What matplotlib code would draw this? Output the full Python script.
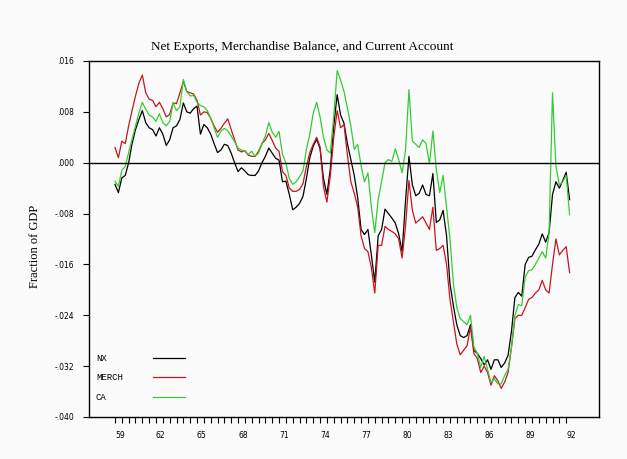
import numpy as np
import matplotlib
matplotlib.use("Agg")
import matplotlib.pyplot as plt

# Quarterly data 1959Q1 - 1992Q2, fraction of GDP
start_year = 1959
nx = [
    -0.0034, -0.0047, -0.0024, -0.0020, 0.0000, 0.0030, 0.0052, 0.0068, 0.0082, 0.0063,
    0.0055, 0.0052, 0.0042, 0.0055, 0.0045, 0.0027, 0.0036, 0.0055, 0.0058, 0.0068,
    0.0094, 0.0080, 0.0078, 0.0085, 0.0089, 0.0045, 0.0060, 0.0055,
    0.0045, 0.0030, 0.0016, 0.0020, 0.0029, 0.0027, 0.0015, 0.0000, -0.0014, -0.0008,
    -0.0013, -0.0019, -0.0020, -0.0020, -0.0013, 0.0000, 0.0010, 0.0023, 0.0015, 0.0007,
    0.0004, -0.0030, -0.0029, -0.0050, -0.0074, -0.0070,
    -0.0064, -0.0053, -0.0025, 0.0008, 0.0026, 0.0037, 0.0022, -0.0025, -0.0050, -0.0010,
    0.0058, 0.0107, 0.0075, 0.0062, 0.0030, 0.0005, -0.0020, -0.0055, -0.0105, -0.0113,
    -0.0105, -0.0145, -0.0188, -0.0115, -0.0105, -0.0073, -0.0080, -0.0087,
    -0.0095, -0.0112, -0.0140, -0.0060, 0.0010, -0.0035, -0.0052, -0.0048, -0.0035, -0.0050,
    -0.0052, -0.0017, -0.0094, -0.0090, -0.0075, -0.0115, -0.0190, -0.0225, -0.0255, -0.0272,
    -0.0275, -0.0272, -0.0255, -0.0295, -0.0300, -0.0308, -0.0318, -0.0310,
    -0.0325, -0.0310, -0.0310, -0.0322, -0.0315, -0.0303, -0.0265, -0.0212, -0.0204, -0.0210,
    -0.0160, -0.0149, -0.0147, -0.0137, -0.0128, -0.0112, -0.0125, -0.0110, -0.0050, -0.0030,
    -0.0040, -0.0028, -0.0015, -0.0058,
]
merch = [
    0.0024, 0.0008, 0.0034, 0.0030, 0.0058, 0.0082, 0.0105, 0.0125, 0.0138, 0.0110,
    0.0100, 0.0098, 0.0088, 0.0095, 0.0085, 0.0072, 0.0076, 0.0094, 0.0093, 0.0110,
    0.0128, 0.0112, 0.0110, 0.0108, 0.0098, 0.0075, 0.0080, 0.0079,
    0.0070, 0.0058, 0.0048, 0.0054, 0.0062, 0.0069, 0.0052, 0.0036, 0.0020, 0.0017,
    0.0019, 0.0012, 0.0010, 0.0010, 0.0018, 0.0030, 0.0036, 0.0046, 0.0035, 0.0023,
    0.0018, -0.0014, -0.0020, -0.0040, -0.0045, -0.0045,
    -0.0042, -0.0033, -0.0006, 0.0016, 0.0029, 0.0040, 0.0025, -0.0038, -0.0062, -0.0020,
    0.0040, 0.0082, 0.0055, 0.0060, 0.0012, -0.0030, -0.0048, -0.0070, -0.0115, -0.0135,
    -0.0140, -0.0165, -0.0205, -0.0130, -0.0130, -0.0100, -0.0105, -0.0108,
    -0.0112, -0.0120, -0.0150, -0.0100, -0.0028, -0.0075, -0.0095, -0.0090, -0.0085, -0.0095,
    -0.0105, -0.0070, -0.0138, -0.0135, -0.0130, -0.0160, -0.0215, -0.0250, -0.0285, -0.0302,
    -0.0295, -0.0288, -0.0258, -0.0300, -0.0308, -0.0330, -0.0320, -0.0330,
    -0.0350, -0.0335, -0.0343, -0.0355, -0.0345, -0.0330, -0.0290, -0.0245, -0.0240, -0.0240,
    -0.0228, -0.0215, -0.0212, -0.0205, -0.0200, -0.0185, -0.0200, -0.0205, -0.0160, -0.0120,
    -0.0145, -0.0138, -0.0132, -0.0173,
]
ca = [
    -0.0029, -0.0037, -0.0012, -0.0006, 0.0016, 0.0037, 0.0058, 0.0078, 0.0095, 0.0084,
    0.0075, 0.0072, 0.0065, 0.0077, 0.0063, 0.0058, 0.0065, 0.0094, 0.0082, 0.0088,
    0.0131, 0.0112, 0.0105, 0.0106, 0.0095, 0.0090, 0.0088, 0.0082,
    0.0070, 0.0055, 0.0040, 0.0050, 0.0054, 0.0050, 0.0042, 0.0033, 0.0023, 0.0020,
    0.0018, 0.0013, 0.0018, 0.0010, 0.0015, 0.0030, 0.0042, 0.0063, 0.0048, 0.0040,
    0.0049, 0.0013, 0.0000, -0.0025, -0.0034, -0.0030,
    -0.0022, -0.0013, 0.0021, 0.0045, 0.0078, 0.0095, 0.0072, 0.0040, 0.0020, 0.0015,
    0.0073, 0.0145, 0.0130, 0.0112, 0.0086, 0.0058, 0.0021, 0.0029, -0.0005, -0.0030,
    -0.0016, -0.0070, -0.0110, -0.0058, -0.0030, 0.0000, 0.0005, 0.0002,
    0.0022, 0.0005, -0.0016, 0.0020, 0.0115, 0.0034, 0.0029, 0.0024, 0.0036, 0.0030,
    -0.0002, 0.0050, -0.0010, -0.0047, -0.0020, -0.0070, -0.0120, -0.0190, -0.0228, -0.0245,
    -0.0250, -0.0255, -0.0240, -0.0290, -0.0300, -0.0322, -0.0305, -0.0325,
    -0.0346, -0.0340, -0.0348, -0.0348, -0.0335, -0.0325, -0.0290, -0.0240, -0.0223, -0.0225,
    -0.0180, -0.0170, -0.0168, -0.0160, -0.0150, -0.0140, -0.0150, -0.0110, 0.0110, -0.0005,
    -0.0035, -0.0030, -0.0020, -0.0082,
]
series_names = ["NX", "MERCH", "CA"]
series_colors = ["#000000", "#c8141e", "#32cd32"]
y_ticks = [0.016, 0.008, 0.0, -0.008, -0.016, -0.024, -0.032, -0.040]
y_ticklabels = [".016", ".008", ".000", "-.008", "-.016", "-.024", "-.032", "-.040"]
x_label_years = [1959, 1962, 1965, 1968, 1971, 1974, 1977, 1980, 1983, 1986, 1989, 1992]
x_ticklabels = ["59", "62", "65", "68", "71", "74", "77", "80", "83", "86", "89", "92"]

t = start_year + np.arange(len(nx)) / 4.0

bg = "#fbfbfb"
fig = plt.figure(figsize=(6.27, 4.59), dpi=100, facecolor=bg)
ax = fig.add_axes([89 / 627, 42 / 459, 510 / 627, 356 / 459], facecolor=bg)

for vals, name, col in zip([nx, merch, ca], series_names, series_colors):
    ax.plot(t, vals, color=col, lw=0.9, label=name)

ax.axhline(0, color="black", lw=1.0)

ax.set_xlim(1957.1, 1994.4)
ax.set_ylim(-0.040, 0.016)

for s in ax.spines.values():
    s.set_linewidth(1.0)

ax.set_yticks(y_ticks)
ax.set_yticklabels(y_ticklabels, fontsize=5.5, family="DejaVu Sans")
ax.tick_params(axis="y", length=4.5, width=0.8, pad=6)

# half-year ticks (unlabeled) and labels offset slightly into each year
ax.set_xticks(np.arange(1959, 1992.01, 0.5), minor=True)
ax.set_xticks([y + 0.35 for y in x_label_years])
ax.set_xticklabels(x_ticklabels, fontsize=5.5, family="DejaVu Sans")
ax.tick_params(axis="x", which="major", length=0, pad=10)
ax.tick_params(axis="x", which="minor", length=4, width=0.8)

# legend (label left, sample line right)
leg_y = [0.165, 0.1115, 0.0553]
for name, col, yy in zip(series_names, series_colors, leg_y):
    ax.text(0.0137, yy, name, transform=ax.transAxes, fontsize=6.5,
            family="Liberation Mono", va="center", ha="left")
    ax.plot([0.126, 0.1886], [yy, yy], transform=ax.transAxes, color=col, lw=0.9)

fig.text(302 / 627, 1 - 47 / 459, "Net Exports, Merchandise Balance, and Current Account",
         ha="center", va="center", fontsize=9.5, family="Liberation Serif")
fig.text(35 / 627, 1 - 246 / 459, "Fraction of GDP", rotation=90, ha="center", va="center",
         fontsize=9, family="Liberation Serif")

fig.savefig("out.png", dpi=100, facecolor=bg)
